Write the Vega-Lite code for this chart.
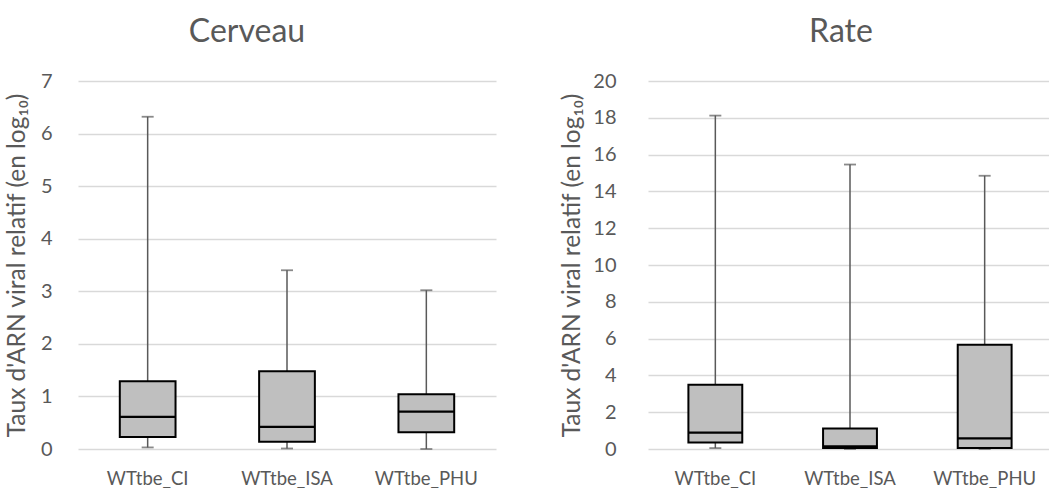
{
  "$schema": "https://vega.github.io/schema/vega-lite/v6.json",
  "padding": {"left": 4, "top": 16, "right": 0, "bottom": 0},
  "background": "white",
  "spacing": 63,
  "config": {
    "font": "Lato",
    "view": {"stroke": null},
    "title": {"fontSize": 32, "fontWeight": "normal", "color": "#595959", "font": "Lato", "offset": 22},
    "axis": {"labelColor": "#595959", "titleColor": "#595959", "labelFont": "Lato", "titleFont": "Lato", "titleFontWeight": "normal", "domain": false, "ticks": false, "gridColor": "#d9d9d9", "gridWidth": 1.3},
    "axisY": {"labelFontSize": 20, "titleFontSize": 24.5, "labelOverlap": false, "format": "d"},
    "axisX": {"labelFontSize": 18.5, "labelPadding": 20, "grid": false, "labelAngle": 0}
  },
  "datasets": {
    "cerveau": [
      {"groupe": "WTtbe_CI", "min": 0.03, "q1": 0.23, "median": 0.61, "q3": 1.29, "max": 6.32},
      {"groupe": "WTtbe_ISA", "min": 0.01, "q1": 0.14, "median": 0.42, "q3": 1.48, "max": 3.40},
      {"groupe": "WTtbe_PHU", "min": 0.0, "q1": 0.32, "median": 0.71, "q3": 1.04, "max": 3.02}
    ],
    "rate": [
      {"groupe": "WTtbe_CI", "min": 0.05, "q1": 0.36, "median": 0.89, "q3": 3.49, "max": 18.12},
      {"groupe": "WTtbe_ISA", "min": 0.0, "q1": 0.05, "median": 0.15, "q3": 1.11, "max": 15.46},
      {"groupe": "WTtbe_PHU", "min": 0.0, "q1": 0.05, "median": 0.58, "q3": 5.67, "max": 14.85}
    ]
  },
  "hconcat": [
    {
      "title": {"text": "Cerveau", "dx": -40},
      "width": 418,
      "height": 368,
      "data": {"name": "cerveau"},
      "encoding": {
        "x": {"field": "groupe", "type": "nominal", "sort": null, "title": null,
          "scale": {"paddingInner": 0.6, "paddingOuter": 0.3}},
        "y": {"type": "quantitative", "scale": {"domain": [0, 7], "nice": false},
          "title": "Taux d'ARN viral relatif (en log₁₀)",
          "axis": {"values": [0, 1, 2, 3, 4, 5, 6, 7], "labelPadding": 26, "titlePadding": 11}}
      },
      "layer": [
        {
          "mark": {"type": "rule", "color": "#595959", "strokeWidth": 1.5},
          "encoding": {"y": {"field": "min"}, "y2": {"field": "max"}}
        },
        {
          "mark": {"type": "tick", "color": "#595959", "size": 12, "thickness": 1.8},
          "encoding": {"y": {"field": "min"}}
        },
        {
          "mark": {"type": "tick", "color": "#595959", "size": 12, "thickness": 1.8},
          "encoding": {"y": {"field": "max"}}
        },
        {
          "mark": {"type": "bar", "fill": "#bfbfbf", "stroke": "#000000", "strokeWidth": 2},
          "encoding": {"y": {"field": "q1"}, "y2": {"field": "q3"}}
        },
        {
          "mark": {"type": "tick", "color": "#000000", "size": 56, "thickness": 2.2, "opacity": 1},
          "encoding": {"y": {"field": "median"}}
        }
      ]
    },
    {
      "title": {"text": "Rate", "dx": -9},
      "width": 404,
      "height": 368,
      "data": {"name": "rate"},
      "encoding": {
        "x": {"field": "groupe", "type": "nominal", "sort": null, "title": null,
          "scale": {"paddingInner": 0.6, "paddingOuter": 0.3}},
        "y": {"type": "quantitative", "scale": {"domain": [0, 20], "nice": false},
          "title": "Taux d'ARN viral relatif (en log₁₀)",
          "axis": {"values": [0, 2, 4, 6, 8, 10, 12, 14, 16, 18, 20], "labelPadding": 32, "titlePadding": 8}}
      },
      "layer": [
        {
          "mark": {"type": "rule", "color": "#595959", "strokeWidth": 1.5},
          "encoding": {"y": {"field": "min"}, "y2": {"field": "max"}}
        },
        {
          "mark": {"type": "tick", "color": "#595959", "size": 12, "thickness": 1.8},
          "encoding": {"y": {"field": "min"}}
        },
        {
          "mark": {"type": "tick", "color": "#595959", "size": 12, "thickness": 1.8},
          "encoding": {"y": {"field": "max"}}
        },
        {
          "mark": {"type": "bar", "fill": "#bfbfbf", "stroke": "#000000", "strokeWidth": 2},
          "encoding": {"y": {"field": "q1"}, "y2": {"field": "q3"}}
        },
        {
          "mark": {"type": "tick", "color": "#000000", "size": 54, "thickness": 2.2, "opacity": 1},
          "encoding": {"y": {"field": "median"}}
        }
      ]
    }
  ]
}
